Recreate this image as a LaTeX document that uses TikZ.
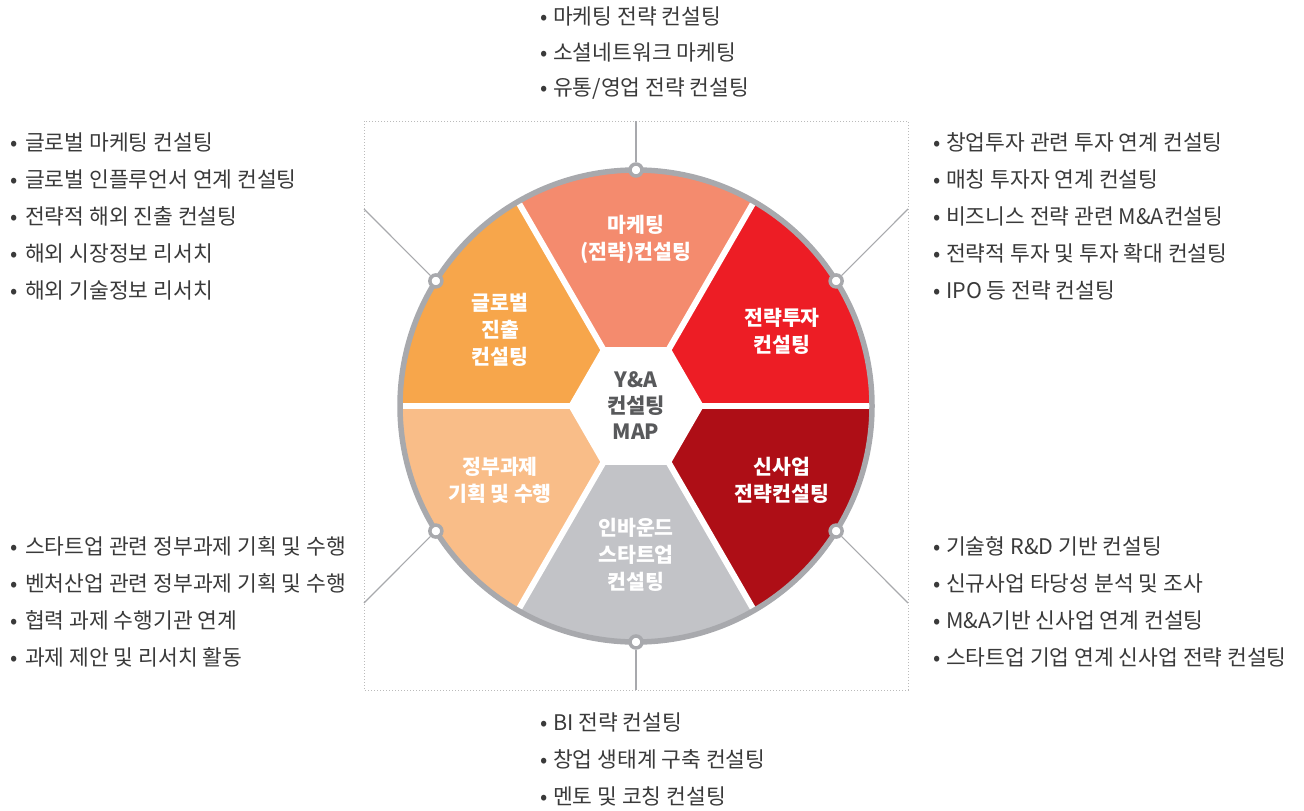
\documentclass[tikz,border=0pt]{standalone}
\usepackage{fontspec}
\setmainfont{Noto Sans CJK KR}
\usetikzlibrary{calc}
\definecolor{ringgray}{HTML}{A8A9AD}
\definecolor{dotgray}{HTML}{BBBBBB}
\definecolor{listtext}{HTML}{3A3A3A}
\definecolor{ctrtext}{HTML}{58595B}
\definecolor{cMk}{HTML}{F48B6E}
\definecolor{cInv}{HTML}{ED1D25}
\definecolor{cNew}{HTML}{AE0E16}
\definecolor{cInb}{HTML}{C2C3C7}
\definecolor{cGov}{HTML}{F9BD88}
\definecolor{cGlb}{HTML}{F7A64B}
\begin{document}
\begin{tikzpicture}[x=1pt,y=-1pt,
  li/.style={anchor=west, inner sep=0pt, text=listtext, font=\fontsize{21.5}{24}\selectfont},
  seclabel/.style={align=center, text=white, inner sep=0pt, font=\fontsize{20.5}{27}\bfseries\selectfont},
  ctrlabel/.style={align=center, text=ctrtext, inner sep=0pt, font=\fontsize{21}{26}\bfseries\selectfont},
  dotn/.style={circle, fill=white, draw=ringgray, line width=3.5pt, minimum size=12pt, inner sep=0pt},
  leader/.style={draw=ringgray, line width=1.1pt},
  divider/.style={white, line width=6pt}]
\useasboundingbox (0,0) rectangle (1304,811);
\coordinate (C) at (636,406);
% frame
\draw[dotgray, dotted, line width=1pt] (364,121) rectangle (908,690);
% sectors
\fill[cInv] (C) -- ($(C)+(0:236pt)$) arc[start angle=0,end angle=60,radius=236pt] -- cycle;
\fill[cMk]  (C) -- ($(C)+(60:236pt)$) arc[start angle=60,end angle=120,radius=236pt] -- cycle;
\fill[cGlb] (C) -- ($(C)+(120:236pt)$) arc[start angle=120,end angle=180,radius=236pt] -- cycle;
\fill[cGov] (C) -- ($(C)+(180:236pt)$) arc[start angle=180,end angle=240,radius=236pt] -- cycle;
\fill[cInb] (C) -- ($(C)+(240:236pt)$) arc[start angle=240,end angle=300,radius=236pt] -- cycle;
\fill[cNew] (C) -- ($(C)+(300:236pt)$) arc[start angle=300,end angle=360,radius=236pt] -- cycle;
\foreach \a in {0,60,...,300} \draw[divider] (C) -- ($(C)+(\a:236pt)$);
\fill[white] ($(C)+(0:68pt)$) -- ($(C)+(60:68pt)$) -- ($(C)+(120:68pt)$) -- ($(C)+(180:68pt)$) -- ($(C)+(240:68pt)$) -- ($(C)+(300:68pt)$) -- cycle;
\draw[ringgray, line width=5.5pt] (C) circle[radius=236pt];
% leader end points
\coordinate (et) at (636,121);
\coordinate (eb) at (636,690);
\coordinate (eul) at (364,209);
\coordinate (eur) at (908,209);
\coordinate (ell) at (364,603);
\coordinate (elr) at (908,603);
% dots
\node[dotn] (dt)  at ($(C)+(90:236pt)$) {};
\node[dotn] (db)  at ($(C)+(270:236pt)$) {};
\node[dotn] (dul) at ($(C)+(148:236pt)$) {};
\node[dotn] (dur) at ($(C)+(32:236pt)$) {};
\node[dotn] (dll) at ($(C)+(212:236pt)$) {};
\node[dotn] (dlr) at ($(C)+(328:236pt)$) {};
\draw[leader] (dt) -- (et);
\draw[leader] (db) -- (eb);
\draw[leader] (dul) -- (eul);
\draw[leader] (dur) -- (eur);
\draw[leader] (dll) -- (ell);
\draw[leader] (dlr) -- (elr);
% sector labels
\node[seclabel] (smk)  at (636,239) {마케팅\\(전략)컨설팅};
\node[seclabel] (sinv) at (782,331) {전략투자\\컨설팅};
\node[seclabel] (snew) at (782,480) {신사업\\전략컨설팅};
\node[seclabel] (sinb) at (636,555) {인바운드\\스타트업\\컨설팅};
\node[seclabel] (sgov) at (500,480) {정부과제\\기획 및 수행};
\node[seclabel] (sglb) at (500,330) {글로벌\\진출\\컨설팅};
\node[ctrlabel] (ctr) at (636,406) {Y\&A\\컨설팅\\MAP};
% lists
\foreach \t [count=\i] in {마케팅 전략 컨설팅, 소셜네트워크 마케팅, 유통/영업 전략 컨설팅}
  \node[li] (lt\i) at (540,{16+36.5*(\i-1)}) {\makebox[13pt][l]{•}\t};
\foreach \t [count=\i] in {글로벌 마케팅 컨설팅, 글로벌 인플루언서 연계 컨설팅, 전략적 해외 진출 컨설팅, 해외 시장정보 리서치, 해외 기술정보 리서치}
  \node[li] (lul\i) at (10,{142+37*(\i-1)}) {\makebox[15pt][l]{•}\t};
\foreach \t [count=\i] in {창업투자 관련 투자 연계 컨설팅, 매칭 투자자 연계 컨설팅, 비즈니스 전략 관련 M\&A컨설팅, 전략적 투자 및 투자 확대 컨설팅, IPO 등 전략 컨설팅}
  \node[li] (lur\i) at (933,{142+37*(\i-1)}) {\makebox[13pt][l]{•}\t};
\foreach \t [count=\i] in {스타트업 관련 정부과제 기획 및 수행, 벤처산업 관련 정부과제 기획 및 수행, 협력 과제 수행기관 연계, 과제 제안 및 리서치 활동}
  \node[li] (lll\i) at (10,{546+37*(\i-1)}) {\makebox[15pt][l]{•}\t};
\foreach \t [count=\i] in {기술형 R\&D 기반 컨설팅, 신규사업 타당성 분석 및 조사, M\&A기반 신사업 연계 컨설팅, 스타트업 기업 연계 신사업 전략 컨설팅}
  \node[li] (llr\i) at (933,{546+37*(\i-1)}) {\makebox[13pt][l]{•}\t};
\foreach \t [count=\i] in {BI 전략 컨설팅, 창업 생태계 구축 컨설팅, 멘토 및 코칭 컨설팅}
  \node[li] (lb\i) at (540,{722+37*(\i-1)}) {\makebox[13pt][l]{•}\t};
\end{tikzpicture}
\end{document}
